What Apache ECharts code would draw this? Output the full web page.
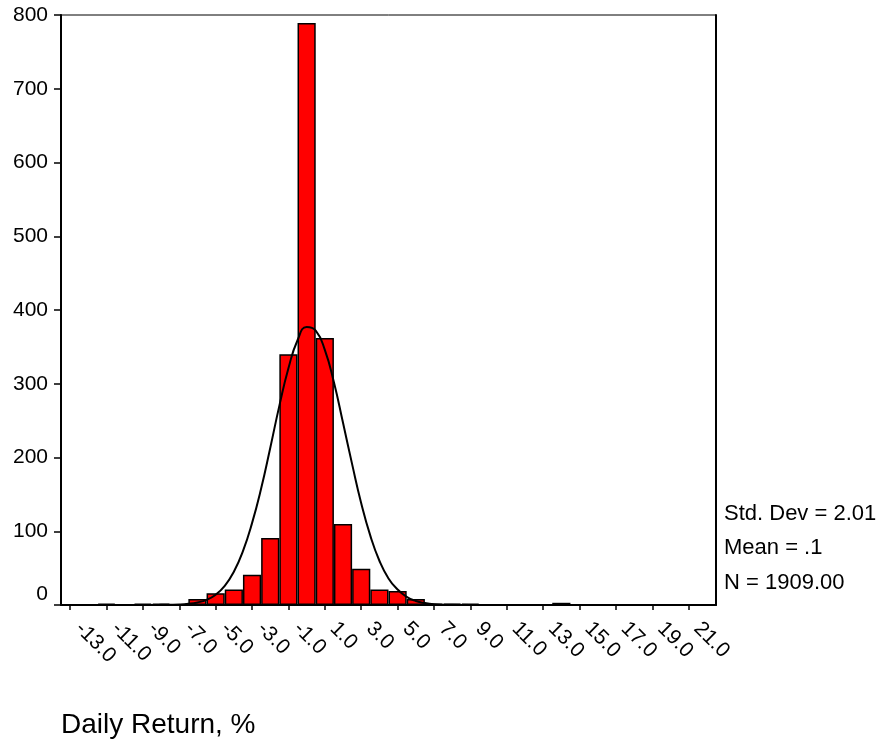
<!DOCTYPE html>
<html>
<head>
<meta charset="utf-8">
<script src="https://cdn.jsdelivr.net/npm/echarts@6/dist/echarts.min.js"></script>
<style>
html,body{margin:0;padding:0;background:#fff;}
#chart{width:880px;height:742px;}
</style>
</head>
<body>
<div id="chart"></div>
<script>
// Bin centres (bin width 1) of the daily return histogram, %
const binCenters = [-13,-12,-11,-10,-9,-8,-7,-6,-5,-4,-3,-2,-1,0,1,2,3,4,5,6,7,8,9,10,11,12,13,14,15,16,17,18,19,20,21,22];
// Frequencies
const counts = [1,0,2,0,2,2,0,8,16,21,41,91,340,789,362,110,49,21,19,8,2,2,2,1,0,0,0,3,0,1,1,0,1,1,1,0];
// Normal curve overlay
const curveX = [-13.5,-9,-8,-7,-6.5,-6,-5.5,-5,-4.5,-4,-3.5,-3,-2.5,-2,-1.5,-1,-0.5,0,0.5,1,1.5,2,2.5,3,3.5,4,4.5,5,5.5,6,6.5,7,8,9,22.5];
const curveY = [0,0,0.2,0.7,1.6,3.5,7,14,26,45,73,111,158,213,270,321,359,377,372,346,302,247,191,138,94,60,36,21,11,5.5,2.6,1.1,0.2,0,0];
// Y tick values
const yTicks = [0,100,200,300,400,500,600,700,800];
// Summary statistics text
const statLines = ['Std. Dev = 2.01', 'Mean = .1', 'N = 1909.00'];
const xTitle = 'Daily Return, %';

const FONT = '"Liberation Sans", Arial, Helvetica, sans-serif';
const chart = echarts.init(document.getElementById('chart'), null, {renderer: 'canvas'});

const option = {
  animation: false,
  backgroundColor: '#fff',
  textStyle: {fontFamily: FONT},
  grid: {left: 61, right: 164, top: 15, height: 590, show: true, borderColor: '#000', borderWidth: 1, backgroundColor: 'transparent'},
  xAxis: [{
    type: 'category',
    data: binCenters.map(String),
    boundaryGap: true,
    axisLine: {show: true, onZero: false, lineStyle: {color: '#000', width: 2}},
    axisTick: {show: true, alignWithLabel: true, interval: 1, length: 5, lineStyle: {color: '#000', width: 1.5}},
    axisLabel: {
      interval: 1, rotate: -45, margin: 12, padding: [0, 0, 0, 12],
      color: '#000', fontSize: 21, fontFamily: FONT,
      formatter: v => Number(v).toFixed(1)
    },
    splitLine: {show: false}
  }, {
    type: 'value', min: -13.5, max: 22.5, show: false, position: 'bottom',
    axisLine: {show: false, onZero: false}, axisTick: {show: false}, axisLabel: {show: false}, splitLine: {show: false}
  }],
  yAxis: [{
    type: 'value', min: yTicks[0], max: yTicks[yTicks.length - 1], interval: 100,
    axisLine: {show: true, onZero: false, lineStyle: {color: '#000', width: 2}},
    axisTick: {show: true, length: 7, lineStyle: {color: '#000', width: 1.5}},
    axisLabel: {
      margin: 13, color: '#000', fontSize: 21, fontFamily: FONT,
      formatter: v => v === 0 ? '{z|0}' : String(v),
      rich: {z: {fontSize: 21, fontFamily: FONT, color: '#000', padding: [0, 0, 21, 0]}}
    },
    splitLine: {show: false}
  }, {
    type: 'value', min: 0, max: 800, position: 'right',
    axisLine: {show: true, onZero: false, lineStyle: {color: '#000', width: 2}},
    axisTick: {show: false}, axisLabel: {show: false}, splitLine: {show: false}
  }],
  series: [{
    type: 'bar',
    xAxisIndex: 0, yAxisIndex: 0,
    data: counts,
    barCategoryGap: '0%',
    itemStyle: {color: '#FF0000', borderColor: '#000', borderWidth: 1.5},
    z: 2
  }, {
    type: 'line',
    xAxisIndex: 1, yAxisIndex: 0,
    data: curveX.map((x, i) => [x, curveY[i]]),
    showSymbol: false,
    smooth: true,
    lineStyle: {color: '#000', width: 2},
    z: 5
  }],
  graphic: [
    ...statLines.map((t, i) => ({
      type: 'text', left: 724, top: 503 + i * 34.3,
      style: {text: t, fontSize: 22, fontFamily: FONT, fill: '#000'}
    })),
    {type: 'text', left: 61, top: 711, style: {text: xTitle, fontSize: 28, fontFamily: FONT, fill: '#000'}}
  ]
};
chart.setOption(option);
</script>
</body>
</html>
